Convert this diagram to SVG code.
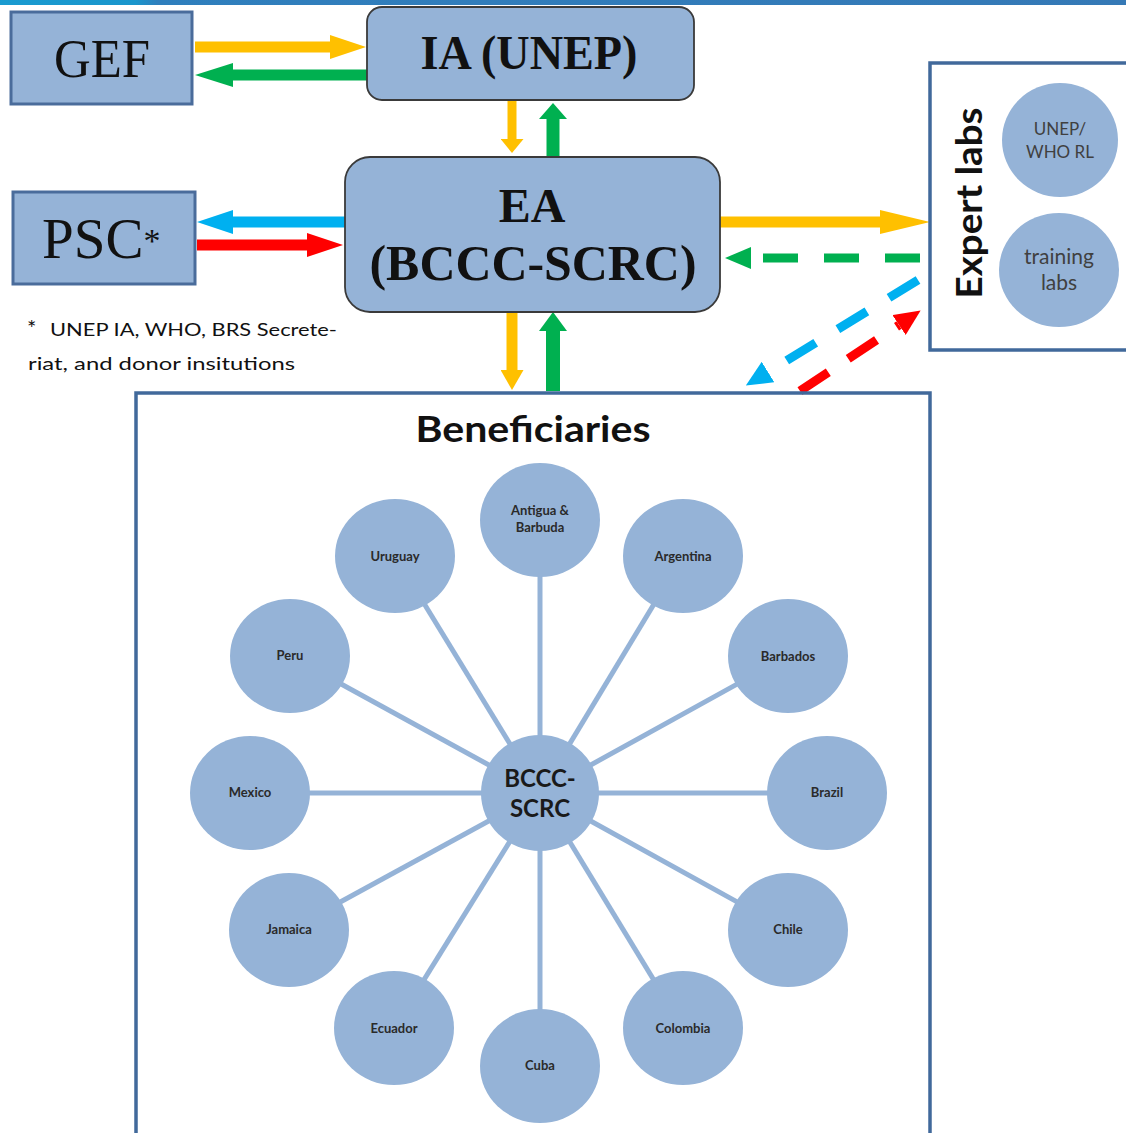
<svg xmlns="http://www.w3.org/2000/svg" width="1126" height="1133" viewBox="0 0 1126 1133">
  <defs>
    <linearGradient id="topbar" x1="0" y1="0" x2="1" y2="0">
      <stop offset="0" stop-color="#1a9bd0"/>
      <stop offset="0.12" stop-color="#1a96cc"/>
      <stop offset="0.14" stop-color="#2f7fbd"/>
      <stop offset="1" stop-color="#3579b6"/>
    </linearGradient>
    <marker id="hY" viewBox="0 0 10 10" preserveAspectRatio="none" refX="0" refY="5" markerWidth="36" markerHeight="24" markerUnits="userSpaceOnUse" orient="auto"><path d="M0,0 L10,5 L0,10 z" fill="#ffc000"/></marker>
    <marker id="hYL" viewBox="0 0 10 10" preserveAspectRatio="none" refX="0" refY="5" markerWidth="50" markerHeight="24" markerUnits="userSpaceOnUse" orient="auto"><path d="M0,0 L10,5 L0,10 z" fill="#ffc000"/></marker>
    <marker id="hG" viewBox="0 0 10 10" preserveAspectRatio="none" refX="0" refY="5" markerWidth="38" markerHeight="24" markerUnits="userSpaceOnUse" orient="auto"><path d="M0,0 L10,5 L0,10 z" fill="#00b050"/></marker>
    <marker id="hB" viewBox="0 0 10 10" preserveAspectRatio="none" refX="0" refY="5" markerWidth="36" markerHeight="24" markerUnits="userSpaceOnUse" orient="auto"><path d="M0,0 L10,5 L0,10 z" fill="#00b0f0"/></marker>
    <marker id="hR" viewBox="0 0 10 10" preserveAspectRatio="none" refX="0" refY="5" markerWidth="36" markerHeight="24" markerUnits="userSpaceOnUse" orient="auto"><path d="M0,0 L10,5 L0,10 z" fill="#ff0000"/></marker>
    <marker id="vY" viewBox="0 0 10 10" preserveAspectRatio="none" refX="0" refY="5" markerWidth="14" markerHeight="23" markerUnits="userSpaceOnUse" orient="auto"><path d="M0,0 L10,5 L0,10 z" fill="#ffc000"/></marker>
    <marker id="vYL" viewBox="0 0 10 10" preserveAspectRatio="none" refX="0" refY="5" markerWidth="20" markerHeight="23" markerUnits="userSpaceOnUse" orient="auto"><path d="M0,0 L10,5 L0,10 z" fill="#ffc000"/></marker>
    <marker id="vG" viewBox="0 0 10 10" preserveAspectRatio="none" refX="0" refY="5" markerWidth="16" markerHeight="28" markerUnits="userSpaceOnUse" orient="auto"><path d="M0,0 L10,5 L0,10 z" fill="#00b050"/></marker>
    <marker id="vGL" viewBox="0 0 10 10" preserveAspectRatio="none" refX="0" refY="5" markerWidth="19" markerHeight="28" markerUnits="userSpaceOnUse" orient="auto"><path d="M0,0 L10,5 L0,10 z" fill="#00b050"/></marker>
    <marker id="dG" viewBox="0 0 10 10" preserveAspectRatio="none" refX="0" refY="5" markerWidth="26" markerHeight="22" markerUnits="userSpaceOnUse" orient="auto"><path d="M0,0 L10,5 L0,10 z" fill="#00b050"/></marker>
    <marker id="dB" viewBox="0 0 10 10" preserveAspectRatio="none" refX="0" refY="5" markerWidth="26" markerHeight="24" markerUnits="userSpaceOnUse" orient="auto"><path d="M0,0 L10,5 L0,10 z" fill="#00b0f0"/></marker>
    <marker id="dR" viewBox="0 0 10 10" preserveAspectRatio="none" refX="0" refY="5" markerWidth="26" markerHeight="24" markerUnits="userSpaceOnUse" orient="auto"><path d="M0,0 L10,5 L0,10 z" fill="#ff0000"/></marker>
  </defs>
  <style>
    .sq { fill:#95b3d7; stroke:#4a6c9b; stroke-width:3; }
    .rr { fill:#95b3d7; stroke:#3a3a3a; stroke-width:1.8; }
    .frame { fill:none; stroke:#41699b; stroke-width:3.5; }
    .serif { font-family:"Liberation Serif","Times New Roman",serif; fill:#111; }
    .sans { font-family:Lato,"Open Sans","Liberation Sans",sans-serif; }
    .c { fill:#95b3d7; }
    .spoke { stroke:#95b3d7; stroke-width:5; }
    .ct { font-family:Lato,"Open Sans","Liberation Sans",sans-serif; font-weight:bold; font-size:13px; fill:#2a2a2a; text-anchor:middle; }
    .y { stroke:#ffc000; fill:none; }
    .g { stroke:#00b050; fill:none; }
    .b { stroke:#00b0f0; fill:none; }
    .r { stroke:#ff0000; fill:none; }
  </style>

  <rect x="0" y="0" width="1126" height="5" fill="url(#topbar)"/>

  <g id="connectors">
    <line class="y" x1="195" y1="47" x2="330" y2="47" stroke-width="11" marker-end="url(#hY)"/>
    <line class="g" x1="367" y1="75" x2="233" y2="75" stroke-width="11" marker-end="url(#hG)"/>
    <line class="b" x1="345" y1="222" x2="233" y2="222" stroke-width="11" marker-end="url(#hB)"/>
    <line class="r" x1="197" y1="245" x2="307" y2="245" stroke-width="11" marker-end="url(#hR)"/>
    <line class="y" x1="720" y1="222" x2="880" y2="222" stroke-width="11" marker-end="url(#hYL)"/>
    <line class="y" x1="512" y1="100" x2="512" y2="139" stroke-width="9" marker-end="url(#vY)"/>
    <line class="g" x1="553" y1="157" x2="553" y2="119" stroke-width="13" marker-end="url(#vG)"/>
    <line class="y" x1="512" y1="312" x2="512" y2="370" stroke-width="11" marker-end="url(#vYL)"/>
    <line class="g" x1="553" y1="391" x2="553" y2="331" stroke-width="14" marker-end="url(#vGL)"/>
    <line class="g" x1="920" y1="258" x2="751" y2="258" stroke-width="9" stroke-dasharray="35 26" marker-end="url(#dG)"/>
    <line class="b" x1="918" y1="280" x2="768" y2="372" stroke-width="9" stroke-dasharray="34 26" marker-end="url(#dB)"/>
    <line class="r" x1="800" y1="391" x2="899" y2="325" stroke-width="9" stroke-dasharray="34 24" marker-end="url(#dR)"/>
  </g>

  <g id="gef">
    <rect class="sq" x="11" y="12" width="181" height="92"/>
    <text class="serif" x="102" y="77" font-size="54" text-anchor="middle" textLength="96" lengthAdjust="spacingAndGlyphs">GEF</text>
  </g>

  <g id="ia">
    <rect class="rr" x="367" y="7" width="327" height="93" rx="15"/>
    <text class="serif" x="529" y="69" font-size="48" font-weight="bold" text-anchor="middle" textLength="217" lengthAdjust="spacingAndGlyphs">IA (UNEP)</text>
  </g>

  <g id="psc">
    <rect class="sq" x="13" y="192" width="182" height="92"/>
    <text class="serif" x="42" y="258" font-size="57">PSC<tspan font-size="34" dy="-6">*</tspan></text>
  </g>

  <g id="ea">
    <rect class="rr" x="345" y="157" width="375" height="155" rx="25"/>
    <text class="serif" x="532" y="222" font-size="48" font-weight="bold" text-anchor="middle">EA</text>
    <text class="serif" x="533" y="280" font-size="50" font-weight="bold" text-anchor="middle" textLength="327" lengthAdjust="spacingAndGlyphs">(BCCC-SCRC)</text>
  </g>

  <g id="footnote">
    <text class="sans" x="27" y="336" font-size="22" fill="#111">*</text>
    <text class="sans" x="50" y="336" font-size="17" fill="#111" textLength="287" lengthAdjust="spacingAndGlyphs">UNEP IA, WHO, BRS Secrete-</text>
    <text class="sans" x="28" y="370" font-size="17" fill="#111" textLength="267" lengthAdjust="spacingAndGlyphs">riat,  and donor insitutions</text>
  </g>

  <g id="expert-labs">
    <rect class="frame" x="930" y="63" width="205" height="287"/>
    <text class="sans" transform="translate(982,203) rotate(-90)" font-size="37" font-weight="bold" fill="#111" text-anchor="middle" textLength="191" lengthAdjust="spacingAndGlyphs">Expert labs</text>
    <g id="unep-who-rl">
      <ellipse class="c" cx="1060" cy="140" rx="58" ry="57"/>
      <text class="sans" x="1060" y="135" font-size="17" fill="#404040" text-anchor="middle">UNEP/</text>
      <text class="sans" x="1060" y="158" font-size="17" fill="#404040" text-anchor="middle">WHO RL</text>
    </g>
    <g id="training-labs">
      <ellipse class="c" cx="1059" cy="270" rx="60" ry="57"/>
      <text class="sans" x="1059" y="264" font-size="21" fill="#404040" text-anchor="middle">training</text>
      <text class="sans" x="1059" y="290" font-size="21" fill="#404040" text-anchor="middle">labs</text>
    </g>
  </g>

  <g id="beneficiaries">
    <rect class="frame" x="136" y="393" width="794" height="760"/>
    <text class="sans" x="533" y="442" font-size="36" font-weight="bold" fill="#111" text-anchor="middle" textLength="235" lengthAdjust="spacingAndGlyphs">Beneficiaries</text>
    <g id="spokes">
      <line class="spoke" x1="540" y1="793" x2="540" y2="520"/>
      <line class="spoke" x1="540" y1="793" x2="683" y2="556"/>
      <line class="spoke" x1="540" y1="793" x2="788" y2="656"/>
      <line class="spoke" x1="540" y1="793" x2="827" y2="793"/>
      <line class="spoke" x1="540" y1="793" x2="788" y2="930"/>
      <line class="spoke" x1="540" y1="793" x2="683" y2="1028"/>
      <line class="spoke" x1="540" y1="793" x2="540" y2="1066"/>
      <line class="spoke" x1="540" y1="793" x2="394" y2="1028"/>
      <line class="spoke" x1="540" y1="793" x2="289" y2="930"/>
      <line class="spoke" x1="540" y1="793" x2="250" y2="793"/>
      <line class="spoke" x1="540" y1="793" x2="290" y2="656"/>
      <line class="spoke" x1="540" y1="793" x2="395" y2="556"/>
    </g>
    <g id="bccc-scrc">
      <ellipse class="c" cx="540" cy="793" rx="59" ry="58"/>
      <text class="sans" x="540" y="787" font-size="24" font-weight="bold" fill="#1a1a1a" text-anchor="middle">BCCC-</text>
      <text class="sans" x="540" y="817" font-size="24" font-weight="bold" fill="#1a1a1a" text-anchor="middle">SCRC</text>
    </g>
    <g id="antigua"><ellipse class="c" cx="540" cy="520" rx="60" ry="57"/><text class="ct" x="540" y="515">Antigua  &amp;</text><text class="ct" x="540" y="532">Barbuda</text></g>
    <g id="argentina"><ellipse class="c" cx="683" cy="556" rx="60" ry="57"/><text class="ct" x="683" y="561">Argentina</text></g>
    <g id="barbados"><ellipse class="c" cx="788" cy="656" rx="60" ry="57"/><text class="ct" x="788" y="661">Barbados</text></g>
    <g id="brazil"><ellipse class="c" cx="827" cy="793" rx="60" ry="57"/><text class="ct" x="827" y="797">Brazil</text></g>
    <g id="chile"><ellipse class="c" cx="788" cy="930" rx="60" ry="57"/><text class="ct" x="788" y="934">Chile</text></g>
    <g id="colombia"><ellipse class="c" cx="683" cy="1028" rx="60" ry="57"/><text class="ct" x="683" y="1033">Colombia</text></g>
    <g id="cuba"><ellipse class="c" cx="540" cy="1066" rx="60" ry="57"/><text class="ct" x="540" y="1070">Cuba</text></g>
    <g id="ecuador"><ellipse class="c" cx="394" cy="1028" rx="60" ry="57"/><text class="ct" x="394" y="1033">Ecuador</text></g>
    <g id="jamaica"><ellipse class="c" cx="289" cy="930" rx="60" ry="57"/><text class="ct" x="289" y="934">Jamaica</text></g>
    <g id="mexico"><ellipse class="c" cx="250" cy="793" rx="60" ry="57"/><text class="ct" x="250" y="797">Mexico</text></g>
    <g id="peru"><ellipse class="c" cx="290" cy="656" rx="60" ry="57"/><text class="ct" x="290" y="660">Peru</text></g>
    <g id="uruguay"><ellipse class="c" cx="395" cy="556" rx="60" ry="57"/><text class="ct" x="395" y="561">Uruguay</text></g>
  </g>
</svg>
